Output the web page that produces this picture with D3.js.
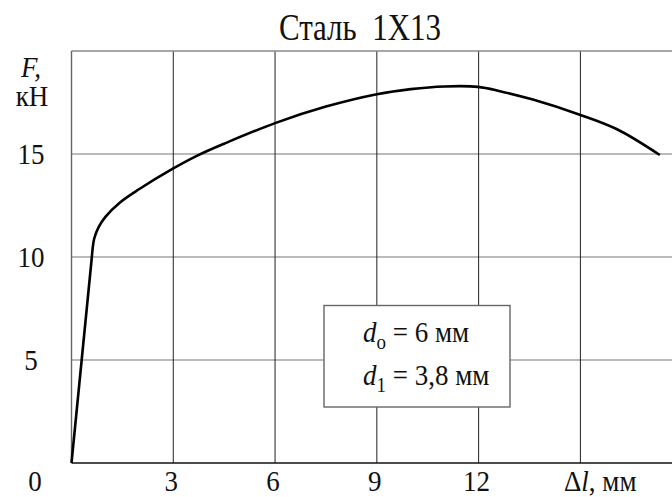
<!DOCTYPE html>
<html>
<head>
<meta charset="utf-8">
<script src="https://cdn.jsdelivr.net/npm/d3@7/dist/d3.min.js"></script>
<style>
  html, body { margin: 0; padding: 0; background: #fff; }
  svg text { font-family: "Liberation Serif", "Times New Roman", serif; fill: #111; }
</style>
</head>
<body>
<svg id="chart" width="672" height="497"></svg>
<script>
// Tensile test diagram: elongation (mm) vs load (kN)
const elongation = [0, 0.3, 0.6, 0.67, 0.8, 1.0, 1.43, 2.0, 3.0, 3.68, 4.5, 6.0, 7.5, 9.0, 10.0, 11.0, 11.98, 12.63, 13.6, 14.96, 16.08, 17.34];
const load       = [0, 5.0, 10.0, 10.9, 11.45, 11.95, 12.65, 13.3, 14.3, 14.9, 15.5, 16.5, 17.3, 17.9, 18.15, 18.28, 18.26, 18.05, 17.64, 16.92, 16.2, 14.95];

const xTicks = [3, 6, 9, 12, 15];
const xTickLabels = ["3", "6", "9", "12"];
const yTicks = [5, 10, 15];
const yTickLabels = ["5", "10", "15"];
const title = "Сталь  1Х13";

const svg = d3.select("#chart");
const x = d3.scaleLinear().domain([0, 17.7]).range([71.5, 672]);
const y = d3.scaleLinear().domain([0, 20]).range([463, 51]);

// text placed at a baseline point, slightly tall-scaled like the printed serif type
function label(px, py, size, sy, anchor) {
  return svg.append("text")
    .attr("transform", `translate(${px},${py}) scale(1,${sy})`)
    .attr("font-size", size)
    .attr("text-anchor", anchor || "start");
}

// grid
svg.append("g").selectAll("line").data(yTicks).join("line")
  .attr("x1", x(0)).attr("x2", 672)
  .attr("y1", d => y(d)).attr("y2", d => y(d))
  .attr("stroke", "#777").attr("stroke-width", 1.2);
svg.append("g").selectAll("line").data(xTicks).join("line")
  .attr("x1", d => x(d)).attr("x2", d => x(d))
  .attr("y1", y(20)).attr("y2", y(0))
  .attr("stroke", "#222").attr("stroke-width", 1);

// frame: top, left, bottom
svg.append("line").attr("x1", x(0)).attr("x2", 672).attr("y1", y(20)).attr("y2", y(20))
  .attr("stroke", "#888").attr("stroke-width", 1.6);
svg.append("line").attr("x1", x(0)).attr("x2", x(0)).attr("y1", y(20)).attr("y2", y(0))
  .attr("stroke", "#666").attr("stroke-width", 1.4);
svg.append("line").attr("x1", x(0)).attr("x2", 672).attr("y1", y(0)).attr("y2", y(0))
  .attr("stroke", "#111").attr("stroke-width", 1.4);

// load curve: straight elastic part, smooth plastic part
const pts = elongation.map((e, i) => [e, load[i]]);
const elastic = pts.slice(0, 3);
const plastic = pts.slice(2);
const straight = d3.line().x(d => x(d[0])).y(d => y(d[1]));
const smooth = d3.line().x(d => x(d[0])).y(d => y(d[1])).curve(d3.curveCatmullRom.alpha(0.5));
svg.append("path").attr("d", straight(elastic))
  .attr("fill", "none").attr("stroke", "#000").attr("stroke-width", 2.6);
svg.append("path").attr("d", smooth(plastic))
  .attr("fill", "none").attr("stroke", "#000").attr("stroke-width", 2.6)
  .attr("stroke-linejoin", "round");

// tick labels
yTickLabels.forEach((d, i) => label(31, y(yTicks[i]) + 10, 27, 1.12, "middle").text(d));
label(35, 491, 27, 1.12, "middle").text("0");
xTickLabels.forEach((d, i) => label(x(xTicks[i]) - 2, 491, 27, 1.12, "middle").text(d));

// axis titles
const xl = label(564, 491, 27, 1.12);
xl.append("tspan").text("Δ");
xl.append("tspan").attr("font-style", "italic").text("l");
xl.append("tspan").text(", мм");

label(31, 77, 27, 1.12, "middle").attr("font-style", "italic").text("F,");
label(32, 106, 27, 1.12, "middle").text("кН");

// title
label(360, 40, 31, 1.2, "middle").style("white-space", "pre").text(title);

// specimen dimensions
svg.append("rect").attr("x", 324).attr("y", 305.5).attr("width", 186).attr("height", 101.5)
  .attr("fill", "#fff").attr("stroke", "#666").attr("stroke-width", 1.4);
const dims = [["о", "6"], ["1", "3,8"]];
dims.forEach((d, i) => {
  const t = label(363, 342 + i * 43, 27, 1.1);
  t.append("tspan").attr("font-style", "italic").text("d");
  t.append("tspan").attr("font-size", 19).attr("dy", 6).text(d[0]);
  t.append("tspan").attr("dy", -6).text(" = " + d[1] + " мм");
});
</script>
</body>
</html>
